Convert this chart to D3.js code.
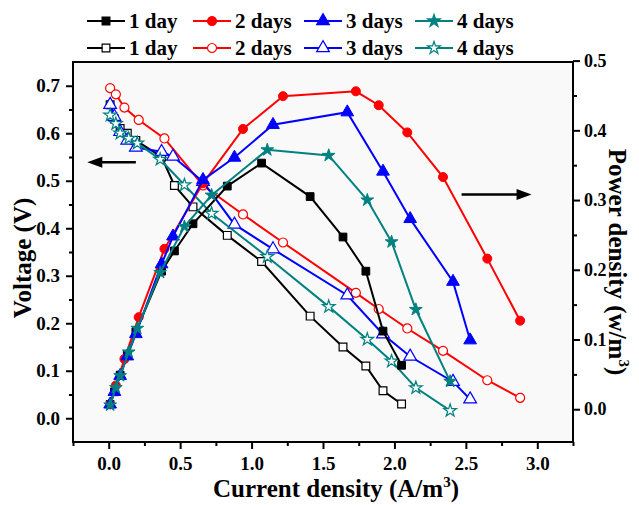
<!DOCTYPE html>
<html>
<head>
<meta charset="utf-8">
<script src="https://cdn.jsdelivr.net/npm/d3@7"></script>
<style>
  body { margin: 0; background: #fff; }
  text { font-family: "Liberation Serif", "Times New Roman", serif; font-weight: bold; fill: #000; }
</style>
</head>
<body>
<svg id="chart" width="639" height="505"></svg>
<script>
// current density (A/m3), voltage (V) and power density (W/m3)
const current1 = [0.01, 0.04, 0.08, 0.13, 0.19, 0.37, 0.46, 0.59, 0.83, 1.07, 1.41, 1.64, 1.80, 1.92, 2.05];
const voltage1 = [0.66, 0.63, 0.61, 0.60, 0.585, 0.55, 0.49, 0.445, 0.385, 0.33, 0.215, 0.15, 0.11, 0.058, 0.03];
const power1   = [0.007, 0.025, 0.049, 0.078, 0.111, 0.198, 0.227, 0.266, 0.32, 0.353, 0.305, 0.247, 0.198, 0.112, 0.063];

const current2 = [0.01, 0.05, 0.11, 0.21, 0.39, 0.66, 0.94, 1.22, 1.73, 1.89, 2.09, 2.34, 2.65, 2.88];
const voltage2 = [0.695, 0.682, 0.654, 0.628, 0.589, 0.49, 0.429, 0.370, 0.264, 0.230, 0.189, 0.142, 0.08, 0.043];
const power2   = [0.007, 0.034, 0.072, 0.132, 0.23, 0.324, 0.402, 0.449, 0.456, 0.436, 0.397, 0.333, 0.216, 0.127];

const current3 = [0.01, 0.04, 0.08, 0.13, 0.19, 0.37, 0.45, 0.66, 0.88, 1.15, 1.67, 1.92, 2.11, 2.41, 2.53];
const voltage3 = [0.66, 0.635, 0.603, 0.585, 0.57, 0.561, 0.551, 0.498, 0.408, 0.356, 0.259, 0.177, 0.13, 0.077, 0.04];
const power3   = [0.007, 0.025, 0.048, 0.076, 0.108, 0.208, 0.248, 0.329, 0.361, 0.408, 0.426, 0.341, 0.273, 0.183, 0.099];

const current4 = [0.01, 0.05, 0.08, 0.14, 0.20, 0.36, 0.53, 0.72, 1.11, 1.54, 1.81, 1.98, 2.15, 2.39];
const voltage4 = [0.638, 0.62, 0.60, 0.589, 0.579, 0.545, 0.491, 0.431, 0.34, 0.235, 0.166, 0.12, 0.064, 0.016];
const power4   = [0.006, 0.031, 0.048, 0.082, 0.116, 0.196, 0.262, 0.307, 0.372, 0.364, 0.30, 0.24, 0.143, 0.04];

const seriesNames = ['1 day', '2 days', '3 days', '4 days'];
const xTicks = [0, 0.5, 1.0, 1.5, 2.0, 2.5, 3.0];
const voltTicks = [0, 0.1, 0.2, 0.3, 0.4, 0.5, 0.6, 0.7];
const powerTicks = [0, 0.1, 0.2, 0.3, 0.4, 0.5];

const colors = ['#000000', '#ff0000', '#0000ff', '#008080'];
const shapes = [d3.symbolSquare, d3.symbolCircle, d3.symbolTriangle, d3.symbolStar];
const shapeSize = [60, 64, 70, 50];

const svg = d3.select('#chart');
const plotL = 73, plotR = 573, plotT = 62, plotB = 442;

const x = d3.scaleLinear().domain([-0.25, 3.25]).range([plotL, plotR]);
const yV = d3.scaleLinear().domain([-0.05, 0.75]).range([plotB, plotT]);
const yP = d3.scaleLinear().domain([-0.047, 0.498]).range([plotB, plotT]);

// plot background
svg.append('rect')
    .attr('x', plotL).attr('y', plotT)
    .attr('width', plotR - plotL).attr('height', plotB - plotT)
    .attr('fill', '#f9f9f9');

const fmt = d3.format('.1f');

function styleAxis(size) {
    return function(g) {
        g.select('.domain').remove();
        g.selectAll('line').attr('stroke', '#000').attr('stroke-width', 2);
        g.selectAll('text').style('font-size', size + 'px').attr('font-weight', 'bold');
    };
}

// x axis
svg.append('g').attr('transform', `translate(0,${plotB})`)
    .call(d3.axisBottom(x).tickValues(xTicks).tickSize(7).tickPadding(8).tickFormat(fmt))
    .call(styleAxis(19));
svg.append('g').attr('transform', `translate(0,${plotB})`)
    .call(d3.axisBottom(x).tickValues(d3.range(-0.25, 3.3, 0.5)).tickSize(4).tickFormat(''))
    .call(styleAxis(19));

// left axis
svg.append('g').attr('transform', `translate(${plotL},0)`)
    .call(d3.axisLeft(yV).tickValues(voltTicks).tickSize(7).tickPadding(6).tickFormat(fmt))
    .call(styleAxis(19));
svg.append('g').attr('transform', `translate(${plotL},0)`)
    .call(d3.axisLeft(yV).tickValues(d3.range(0.05, 0.75, 0.1)).tickSize(4).tickFormat(''))
    .call(styleAxis(19));

// right axis
svg.append('g').attr('transform', `translate(${plotR},0)`)
    .call(d3.axisRight(yP).tickValues(powerTicks).tickSize(7).tickPadding(4).tickFormat(fmt))
    .call(styleAxis(18));
svg.append('g').attr('transform', `translate(${plotR},0)`)
    .call(d3.axisRight(yP).tickValues(d3.range(0.05, 0.5, 0.1)).tickSize(4).tickFormat(''))
    .call(styleAxis(18));

// frame
svg.append('rect')
    .attr('x', plotL).attr('y', plotT)
    .attr('width', plotR - plotL).attr('height', plotB - plotT)
    .attr('fill', 'none').attr('stroke', '#000').attr('stroke-width', 2);

// axis titles
const xTitle = svg.append('text').attr('x', 336).attr('y', 497)
    .attr('text-anchor', 'middle').style('font-size', '25px');
xTitle.append('tspan').text('Current density (A/m');
xTitle.append('tspan').attr('dy', -10).style('font-size', '15px').text('3');
xTitle.append('tspan').attr('dy', 10).text(')');

svg.append('text')
    .attr('transform', 'translate(31,258) rotate(-90)')
    .attr('text-anchor', 'middle').style('font-size', '25px')
    .text('Voltage (V)');

const pTitle = svg.append('text')
    .attr('transform', 'translate(609,262) rotate(90)')
    .attr('text-anchor', 'middle').style('font-size', '25px');
pTitle.append('tspan').text('Power density (w/m');
pTitle.append('tspan').attr('dy', -10).style('font-size', '15px').text('3');
pTitle.append('tspan').attr('dy', 10).text(')');

// series
const polarization = [
    { cur: current1, val: voltage1 }, { cur: current2, val: voltage2 },
    { cur: current3, val: voltage3 }, { cur: current4, val: voltage4 }
];
const powerSets = [
    { cur: current1, val: power1 }, { cur: current2, val: power2 },
    { cur: current3, val: power3 }, { cur: current4, val: power4 }
];

function drawSeries(set, i, yScale, filled) {
    const pts = set.cur.map((c, k) => [c, set.val[k]]);
    const line = d3.line().x(d => x(d[0])).y(d => yScale(d[1]));
    const g = svg.append('g');
    g.append('path').datum(pts)
        .attr('d', line)
        .attr('fill', 'none')
        .attr('stroke', colors[i])
        .attr('stroke-width', 2);
    g.selectAll('path.mk').data(pts).enter().append('path')
        .attr('class', 'mk')
        .attr('transform', d => `translate(${x(d[0])},${yScale(d[1])})`)
        .attr('d', d3.symbol().type(shapes[i]).size(shapeSize[i]))
        .attr('fill', filled ? colors[i] : '#fff')
        .attr('stroke', colors[i])
        .attr('stroke-width', filled ? 1 : 1.2);
}

polarization.forEach((s, i) => drawSeries(s, i, yV, false));
powerSets.forEach((s, i) => drawSeries(s, i, yP, true));

// arrows pointing to the axis each curve family belongs to
const arrowV = { from: 0.19, to: -0.15, v: 0.539 };
const arrowP = { from: 2.47, to: 2.96, p: 0.308 };

function arrow(x1, x2, yy) {
    const dir = Math.sign(x2 - x1);
    svg.append('line')
        .attr('x1', x1).attr('x2', x2 - dir * 10)
        .attr('y1', yy).attr('y2', yy)
        .attr('stroke', '#000').attr('stroke-width', 2.5);
    svg.append('path')
        .attr('d', `M${x2},${yy} L${x2 - dir * 15},${yy - 5.5} L${x2 - dir * 15},${yy + 5.5} Z`)
        .attr('fill', '#000');
}
arrow(x(arrowV.from), x(arrowV.to), yV(arrowV.v));
arrow(x(arrowP.from), x(arrowP.to), yP(arrowP.p));

// legend
const legendX = [87, 193, 304, 415];
const legendRows = [{ y: 21, filled: true }, { y: 48, filled: false }];
legendRows.forEach(row => {
    seriesNames.forEach((name, i) => {
        const lx = legendX[i];
        svg.append('line')
            .attr('x1', lx).attr('x2', lx + 38)
            .attr('y1', row.y).attr('y2', row.y)
            .attr('stroke', colors[i]).attr('stroke-width', 2);
        svg.append('path')
            .attr('transform', `translate(${lx + 19},${row.y})`)
            .attr('d', d3.symbol().type(shapes[i]).size(shapeSize[i]))
            .attr('fill', row.filled ? colors[i] : '#fff')
            .attr('stroke', colors[i]).attr('stroke-width', 1.2);
        svg.append('text')
            .attr('x', lx + 42).attr('y', row.y + 7)
            .style('font-size', '21px')
            .text(name);
    });
});
</script>
</body>
</html>
